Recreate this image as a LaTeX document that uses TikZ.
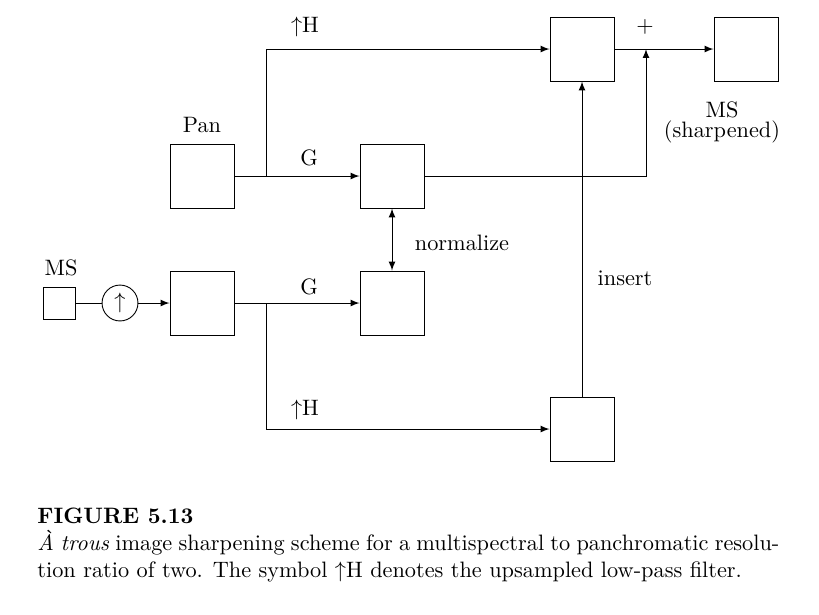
\documentclass[tikz,border=0pt]{standalone}
\begin{document}
\begin{tikzpicture}
  [x=0.4484pt,y=-0.4484pt,thin,>=latex,
   blk/.style={draw,minimum size=28.7pt,inner sep=0pt},
   smallblk/.style={draw,minimum size=14.35pt,inner sep=0pt},
   circ/.style={draw,circle,minimum size=16.1pt,inner sep=0pt},
   lbl/.style={inner sep=0pt}]
  \useasboundingbox (0,0) rectangle (819,614);

  \node[smallblk] (msin) at (59,303) {};
  \node[circ] (upsmp) at (120,303) {$\uparrow$};
  \node[blk] (pan)  at (202,176) {};
  \node[blk] (msup) at (202,303) {};
  \node[blk] (gpan) at (392,176) {};
  \node[blk] (gms)  at (392,303) {};
  \node[blk] (hpan) at (582,49)  {};
  \node[blk] (hms)  at (582,429) {};
  \node[blk] (out)  at (746,49)  {};

  \coordinate (splitp) at (266,176);
  \coordinate (splitm) at (266,303);
  \coordinate (sum)    at (646,49);

  \draw (msin) -- (upsmp);
  \foreach \from/\to in {upsmp/msup,pan/gpan,msup/gms,hpan/out,hms/hpan}
    \draw[->] (\from) -- (\to);
  \draw[->] (splitp) |- (hpan.west);
  \draw[->] (splitm) |- (hms.west);
  \draw[->] (gpan.east) -| (sum);
  \draw[<->] (gpan) -- (gms);

  \node[lbl] (lpan) at (202,125) {Pan};
  \node[lbl] (lms) at (61,268) {MS};
  \node[lbl] (lhp) at (305,27) {$\uparrow$H};
  \node[lbl] (lhm) at (305,410) {$\uparrow$H};
  \node[lbl] (lgp) at (309,158) {G};
  \node[lbl] (lgm) at (309,287) {G};
  \node[lbl] (lnorm) at (462,243) {normalize};
  \node[lbl] (lins) at (625,278) {insert};
  \node[lbl] (lsum) at (645,27) {$+$};
  \node[lbl,align=center] (lout) at (722,122) {MS\\[-3pt](sharpened)};

  % caption
  \node[lbl,anchor=north west,text width=332.7pt,align=justify,
        font=\fontsize{10pt}{12.3pt}\selectfont] (cap) at (37,507)
    {\textbf{FIGURE 5.13}\\
     \textit{\`A trous} image sharpening scheme for a multispectral to panchromatic resolu-\linebreak
     tion ratio of two. The symbol $\uparrow$H denotes the upsampled low-pass filter.};
\end{tikzpicture}
\end{document}
